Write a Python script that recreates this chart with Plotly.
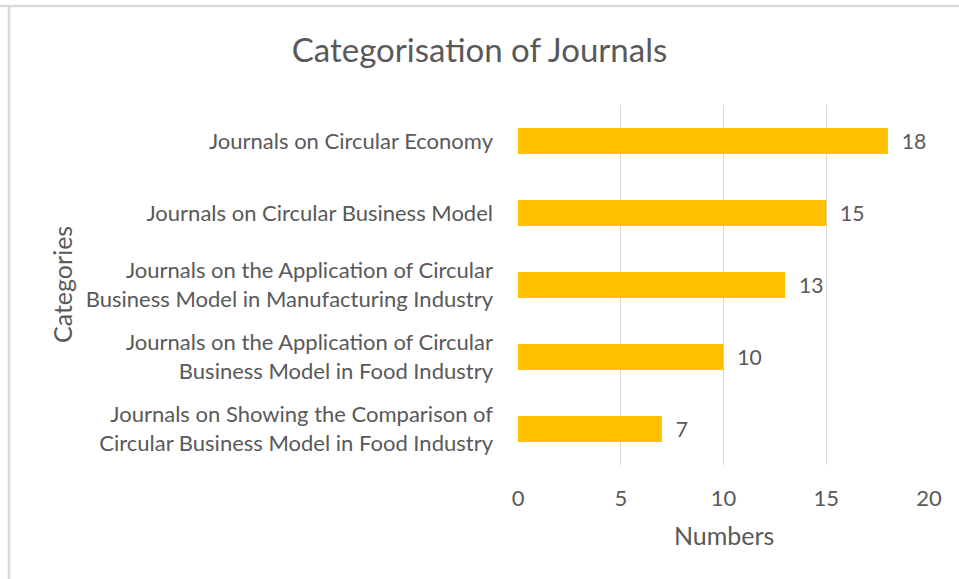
import plotly.graph_objects as go

categories = [
    "Journals on Circular Economy",
    "Journals on Circular Business Model",
    "Journals on the Application of Circular<br>Business Model in Manufacturing Industry",
    "Journals on the Application of Circular<br>Business Model in Food Industry",
    "Journals on Showing the Comparison of<br>Circular Business Model in Food Industry",
]
values = [18, 15, 13, 10, 7]
x_ticks = [0, 5, 10, 15, 20]

FONT = "Lato"
TXT = "#595959"

W, H = 959, 579
L, R, T, B = 518, 30, 105, 114
pw, ph = W - L - R, H - T - B

def px(x):
    return (x - L) / pw

def py(y):
    return (H - B - y) / ph

fig = go.Figure(go.Bar(
    y=categories, x=values, orientation="h",
    marker=dict(color="#FFC000", line=dict(width=0)),
    text=["  " + str(v) for v in values],
    textposition="outside", cliponaxis=False,
    textfont=dict(family=FONT, size=22, color=TXT),
))

fig.update_layout(
    width=W, height=H,
    margin=dict(l=L, r=R, t=T, b=B, pad=0),
    paper_bgcolor="white", plot_bgcolor="white",
    bargap=0.64,
    showlegend=False,
    font=dict(family=FONT, color=TXT),
    title=dict(text="Categorisation of Journals", x=0.5, xanchor="center",
               y=1 - 50 / H, yanchor="middle",
               font=dict(family=FONT, size=33, color=TXT)),
    xaxis=dict(range=[0, 20], tickvals=x_ticks, showgrid=True,
               gridcolor="#d9d9d9", gridwidth=1, zeroline=False,
               showline=False, ticks="", ticklabelstandoff=18,
               tickfont=dict(family=FONT, size=22, color=TXT)),
    yaxis=dict(categoryorder="array", categoryarray=categories,
               autorange="reversed", showgrid=False, zeroline=False,
               showline=False, ticks="", ticklabelstandoff=24,
               tickfont=dict(family=FONT, size=22, color=TXT)),
    annotations=[
        dict(text="Numbers", x=0.5, y=py(535), xref="paper", yref="paper",
             showarrow=False, xanchor="center", yanchor="middle",
             font=dict(family=FONT, size=25, color=TXT)),
        dict(text="Categories", x=px(62), y=py(285), xref="paper", yref="paper",
             showarrow=False, xanchor="center", yanchor="middle", textangle=-90,
             font=dict(family=FONT, size=25, color=TXT)),
    ],
    shapes=[
        dict(type="line", xref="paper", yref="paper", x0=px(0), x1=px(W),
             y0=py(6), y1=py(6), line=dict(color="#d9d9d9", width=2.5)),
        dict(type="line", xref="paper", yref="paper", x0=px(9), x1=px(9),
             y0=py(5), y1=py(H), line=dict(color="#d9d9d9", width=2.5)),
    ],
)

fig.write_html("out.html",
               config={"displayModeBar": False},
               post_script="document.body.style.margin='0';document.body.style.overflow='hidden';")
